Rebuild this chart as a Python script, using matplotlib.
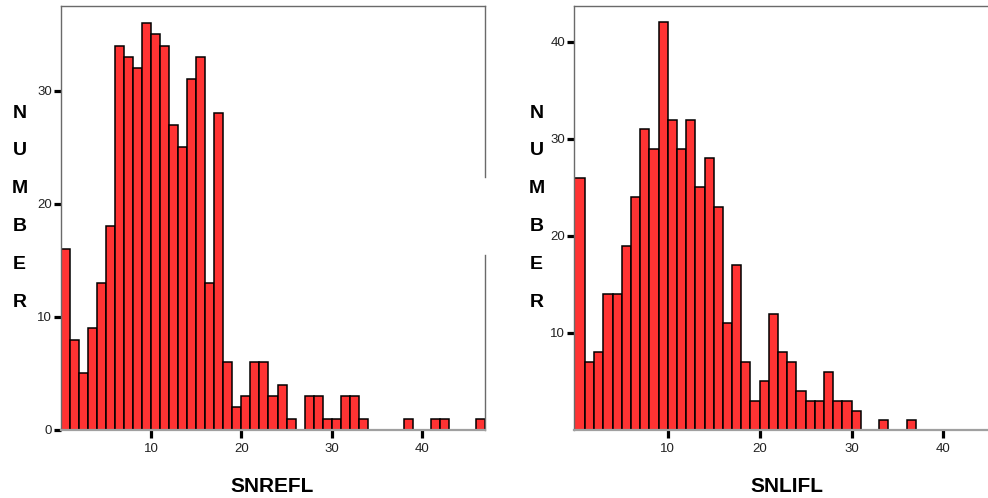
import numpy as np
import matplotlib
matplotlib.use("Agg")
import matplotlib.pyplot as plt

plt.rcParams['font.family'] = ['Liberation Sans', 'DejaVu Sans']

# ---- data (counts per unit-width bin, starting at 0) ----
snrefl_counts = [16, 8, 5, 9, 13, 18, 34, 33, 32, 36, 35, 34, 27, 25, 31, 33, 13, 28,
                 6, 2, 3, 6, 6, 3, 4, 1, 0, 3, 3, 1, 1, 3, 3, 1, 0, 0, 0, 0, 1, 0, 0,
                 1, 1, 0, 0, 0, 1]
snlifl_counts = [26, 7, 8, 14, 14, 19, 24, 31, 29, 42, 32, 29, 32, 25, 28, 23, 11, 17,
                 7, 3, 5, 12, 8, 7, 4, 3, 3, 6, 3, 3, 2, 0, 0, 1, 0, 0, 1]
x_ticks = [10, 20, 30, 40]
left_yticks = [0, 10, 20, 30]
right_yticks = [10, 20, 30, 40]
xlabels = ["SNREFL", "SNLIFL"]
ylabel_text = "NUMBER"

W, H = 988, 498
fig = plt.figure(figsize=(W / 100, H / 100), dpi=100)

BAR = '#FF3333'
FRAME = '#6a6a6a'
BASE = '#a0a0a0'


def px(x0, y0, x1, y1):
    return [x0 / W, 1 - y1 / H, (x1 - x0) / W, (y1 - y0) / H]


def style(ax, xlim, ylim, yticks):
    ax.set_xlim(*xlim)
    ax.set_ylim(*ylim)
    ax.set_xticks(x_ticks)
    ax.set_xticklabels([str(t) for t in x_ticks])
    ax.set_yticks(yticks)
    ax.set_yticklabels([str(t) for t in yticks])
    ax.tick_params(axis='y', direction='out', length=5, width=2.3, color='black',
                   labelsize=9.5, pad=1.5, labelcolor='#222222')
    ax.tick_params(axis='x', direction='out', length=6, width=2.3, color='black',
                   labelsize=9.5, pad=3, labelcolor='#222222')
    for s in ['left', 'top']:
        ax.spines[s].set_color(FRAME)
        ax.spines[s].set_linewidth(1.0)
    ax.spines['bottom'].set_color(BASE)
    ax.spines['bottom'].set_linewidth(1.6)
    ax.spines['right'].set_visible(False)


def draw(ax, counts, xmin):
    n = len(counts)
    lefts = np.arange(n, dtype=float)
    widths = np.ones(n)
    lefts[0] = xmin
    widths[0] = 1 - xmin
    mask = np.array(counts) > 0
    ax.bar(lefts[mask], np.array(counts)[mask], width=widths[mask], align='edge',
           color=BAR, edgecolor='black', linewidth=1.1, zorder=2)


# Left panel
ax1 = fig.add_axes(px(61, 6, 485, 430))
draw(ax1, snrefl_counts, 0.0)
style(ax1, (0, 47), (0, 37.5), left_yticks)
# right frame line with a gap (as in the reference)
ax1.plot([1, 1], [1, 0.597], transform=ax1.transAxes, color=FRAME, lw=1.0, clip_on=False)
ax1.plot([1, 1], [0.413, 0], transform=ax1.transAxes, color=FRAME, lw=1.0, clip_on=False)
ax1.set_xlabel(xlabels[0], fontsize=15, fontweight='bold')
ax1.xaxis.set_label_coords((272.5 - 61) / (485 - 61), -(486 - 430) / 424, transform=ax1.transAxes)
ax1.xaxis.label.set_va('center')

# Right panel
ax2 = fig.add_axes(px(574.3, 6, 988, 430))
draw(ax2, snlifl_counts, -0.17)
style(ax2, (-0.17, 44.85), (0, 43.7), right_yticks)
ax2.set_xlabel(xlabels[1], fontsize=15, fontweight='bold')
ax2.xaxis.set_label_coords((787 - 574.3) / (988 - 574.3), -(486 - 430) / 424, transform=ax2.transAxes)
ax2.xaxis.label.set_va('center')

# Stacked vertical y labels
for xc in (19.5, 536.5):
    fig.text(xc / W, 1 - 207.5 / H, "\n".join(ylabel_text), ha='center', va='center',
             fontsize=14, fontweight='bold', linespacing=2.6, color='black')

fig.savefig("out.png", dpi=100)
